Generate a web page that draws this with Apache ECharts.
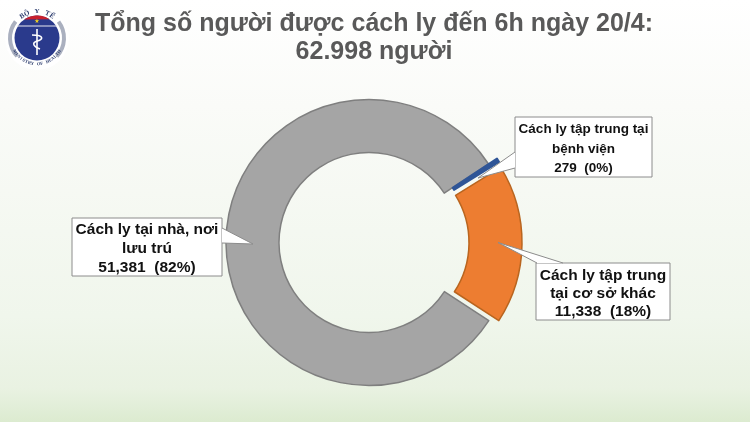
<!DOCTYPE html>
<html><head><meta charset="utf-8">
<style>html,body{margin:0;padding:0;background:#fff}#c{width:750px;height:422px}</style>
<script src="https://cdn.jsdelivr.net/npm/echarts@6/dist/echarts.min.js"></script>
</head><body><div id="c"></div>
<script>
const categories = ['Cách ly tập trung tại\nbệnh viện', 'Cách ly tập trung\ntại cơ sở khác', 'Cách ly tại nhà, nơi\nlưu trú'];
const values = [279, 11338, 51381];
const percents = ['0%', '18%', '82%'];
const titleLines = 'Tổng số người được cách ly đến 6h ngày 20/4:\n62.998 người';
const sliceColors = ['#2f5597', '#ed7d31', '#a5a5a5'];
const edgeColors = ['#2f5597', '#b9651f', '#7f7f7f'];
const boxes = [[515,117,137,60],[536,263,134,57],[72,218,150,58]];
const tails = [[[515,152],[478,178],[515,168]],[[563,263],[498,242.5],[537,263]],[[222,228],[253,244],[222,243]]];
const textSizes = [13.5,15.5,15.5];
const textLeading = [19.5,18,19];

const chart = echarts.init(document.getElementById('c'), null, {renderer:'canvas'});
const fmt = n => n.toLocaleString('en-US');
const data = categories.map((c,i)=>({
  name:c, value:values[i], selected:i<2,
  itemStyle:{color:sliceColors[i],borderColor:edgeColors[i],borderWidth:i===0?2:1.5},
  label:{show:false}
}));

const g = [];
boxes.forEach((b,i)=>{
  g.push({type:'rect',z:50,shape:{x:b[0],y:b[1],width:b[2],height:b[3]},style:{fill:'#fff',stroke:'#8c8c8c',lineWidth:1}});
  g.push({type:'text',z:53,style:{x:b[0]+b[2]/2,y:b[1]+b[3]/2+2,align:'center',verticalAlign:'middle',
    text:categories[i]+'\n'+fmt(values[i])+'  ('+percents[i]+')',fill:'#111',
    font:'bold '+textSizes[i]+'px "Liberation Sans"',lineHeight:textLeading[i]}});
  const t=tails[i];
  g.push({type:'polygon',z:51,shape:{points:t},style:{fill:'#fff'}});
  g.push({type:'polyline',z:52,shape:{points:t},style:{fill:'none',stroke:'#8c8c8c',lineWidth:1}});
});
// logo
const lx=37,ly=38;
g.push({type:'circle',z:5,shape:{cx:lx,cy:ly,r:32},style:{fill:'#fff'}});
g.push({type:'arc',z:6,shape:{cx:lx,cy:ly,r:27,startAngle:-0.65,endAngle:0.75},style:{stroke:'#aab0bf',lineWidth:4,fill:'none'}});
g.push({type:'arc',z:6,shape:{cx:lx,cy:ly,r:27,startAngle:2.4,endAngle:3.8},style:{stroke:'#aab0bf',lineWidth:4,fill:'none'}});
g.push({type:'circle',z:7,shape:{cx:lx,cy:ly,r:22.5},style:{fill:'#2a3a8c'}});
const seg=[];
for(let a=-2.18;a<=-0.96;a+=0.06){seg.push([lx+22.5*Math.cos(a),ly+22.5*Math.sin(a)]);}
g.push({type:'polygon',z:8,shape:{points:seg},style:{fill:'#c8202e'}});
g.push({type:'rect',z:9,shape:{x:lx-20,y:ly-12.6,width:40,height:1},style:{fill:'#e8e8f0'}});
g.push({type:'text',z:10,style:{x:lx,y:ly-17,align:'center',verticalAlign:'middle',text:'★',fill:'#f2d21e',font:'6px "DejaVu Sans"'}});
g.push({type:'line',z:10,shape:{x1:lx,y1:ly-9,x2:lx,y2:ly+17},style:{stroke:'#fff',lineWidth:1.6}});
g.push({type:'bezierCurve',z:10,shape:{x1:lx-5,y1:ly-3,cpx1:lx+8,cpy1:ly-3,cpx2:lx+6,cpy2:ly+2,x2:lx,y2:ly+3},style:{stroke:'#fff',lineWidth:1.6,fill:'none'}});
g.push({type:'bezierCurve',z:10,shape:{x1:lx,y1:ly+3,cpx1:lx-6,cpy1:ly+5,cpx2:lx-3,cpy2:ly+9,x2:lx+3,y2:ly+11},style:{stroke:'#fff',lineWidth:1.6,fill:'none'}});
const curved=(txt,r,mid,step,dir,size)=>{[...txt].forEach((ch,k)=>{
  const a=mid+(k-(txt.length-1)/2)*step*dir;
  g.push({type:'text',z:11,x:lx+r*Math.sin(a),y:ly-r*Math.cos(a),rotation:-a+(dir<0?Math.PI:0),
    style:{x:0,y:0,align:'center',verticalAlign:'middle',text:ch,fill:'#2a3a6c',font:'bold '+size+'px "Liberation Serif"'}});
});};
curved('BỘ Y TẾ',26.5,0,0.2,1,7);
curved('MINISTRY OF HEALTH',26,Math.PI,0.12,-1,4.5);
// title
g.push({type:'text',z:20,style:{x:374,y:38,align:'center',verticalAlign:'middle',text:titleLines,fill:'#595959',
  font:'bold 25px "Liberation Sans"',lineHeight:28}});

chart.setOption({
  animation:false,
  backgroundColor:{type:'linear',x:0,y:0,x2:0,y2:1,colorStops:[
    {offset:0,color:'#ffffff'},{offset:0.25,color:'#fafbf8'},{offset:0.75,color:'#f0f6ec'},
    {offset:0.92,color:'#e9f2e2'},{offset:1,color:'#dcebd0'}]},
  series:[{
    type:'pie',center:[369,242.5],radius:[90,143],startAngle:33.3,
    selectedMode:'multiple',selectedOffset:10,
    clockwise:true,avoidLabelOverlap:false,silent:true,
    label:{show:false},labelLine:{show:false},
    data
  }],
  graphic:{elements:g}
});
</script></body></html>
